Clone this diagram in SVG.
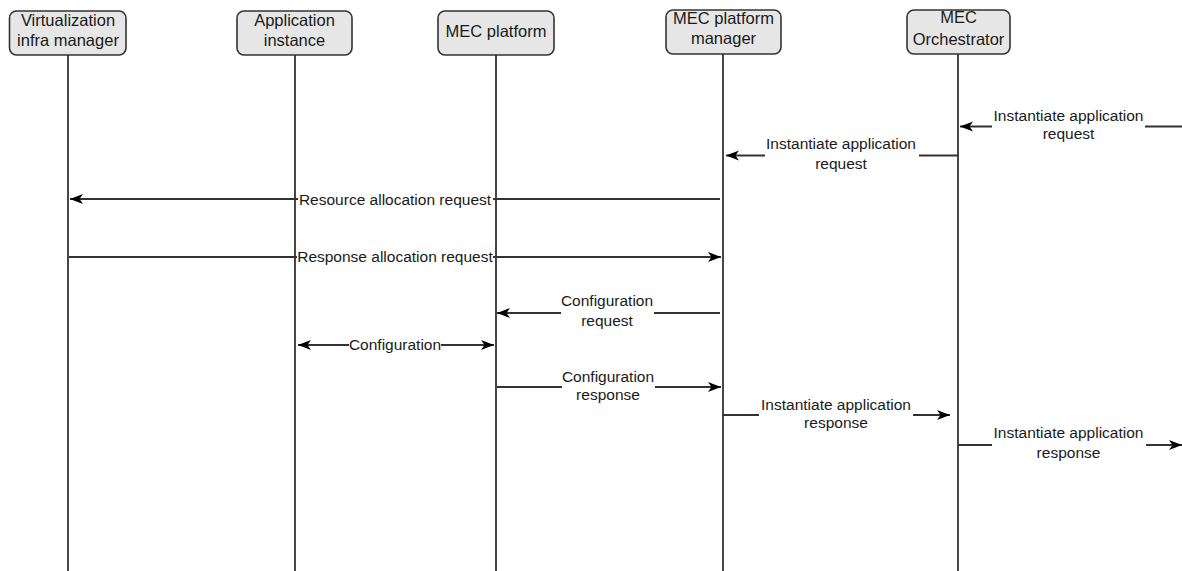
<svg xmlns="http://www.w3.org/2000/svg" width="1182" height="571" viewBox="0 0 1182 571">
<style>
.box{fill:#e6e6e6;stroke:#333;stroke-width:1.6}
.life{stroke:#333;stroke-width:1.8;fill:none}
.msg{stroke:#333;stroke-width:1.8;fill:none}
.t{font-family:"Liberation Sans",Arial,sans-serif;font-size:15.5px;fill:#1a1a1a;text-anchor:middle}
.h{font-family:"Liberation Sans",Arial,sans-serif;font-size:16.5px;fill:#1a1a1a;text-anchor:middle}
.bg{fill:#fff}
</style>
<defs>
<marker id="arr" markerUnits="userSpaceOnUse" markerWidth="14" markerHeight="12" refX="13" refY="5" orient="auto-start-reverse" viewBox="0 0 14 10">
<path d="M0,0 L13,5 L0,10 L3.5,5 Z" fill="#000"/>
</marker>
</defs>
<g id="lifelines">
<line class="life" x1="68" y1="55" x2="68" y2="571"/>
<line class="life" x1="295" y1="55" x2="295" y2="571"/>
<line class="life" x1="496" y1="55" x2="496" y2="571"/>
<line class="life" x1="723" y1="54" x2="723" y2="571"/>
<line class="life" x1="958" y1="54" x2="958" y2="571"/>
</g>
<g id="node-vim">
<rect class="box" x="9.5" y="11" width="116.5" height="44" rx="7"/>
<text class="h" x="68" y="26">Virtualization</text>
<text class="h" x="68" y="46">infra manager</text>
</g>
<g id="node-app">
<rect class="box" x="237" y="11" width="115" height="44" rx="7"/>
<text class="h" x="294.5" y="26">Application</text>
<text class="h" x="294.5" y="46">instance</text>
</g>
<g id="node-mep">
<rect class="box" x="438" y="11" width="116" height="44" rx="7"/>
<text class="h" x="496" y="37">MEC platform</text>
</g>
<g id="node-mepm">
<rect class="box" x="666" y="10" width="115" height="44" rx="7"/>
<text class="h" x="723.5" y="24">MEC platform</text>
<text class="h" x="723.5" y="44">manager</text>
</g>
<g id="node-meo">
<rect class="box" x="907" y="10" width="103" height="44" rx="7"/>
<text class="h" x="958.5" y="23">MEC</text>
<text class="h" x="958.5" y="45">Orchestrator</text>
</g>
<g id="connectors">
<line class="msg" x1="1182" y1="126.5" x2="960" y2="126.5" marker-end="url(#arr)"/>
<line class="msg" x1="958" y1="155.5" x2="726" y2="155.5" marker-end="url(#arr)"/>
<line class="msg" x1="720" y1="199" x2="70" y2="199" marker-end="url(#arr)"/>
<line class="msg" x1="69" y1="257" x2="721" y2="257" marker-end="url(#arr)"/>
<line class="msg" x1="720" y1="313" x2="497" y2="313" marker-end="url(#arr)"/>
<line class="msg" x1="298" y1="345" x2="494" y2="345" marker-start="url(#arr)" marker-end="url(#arr)"/>
<line class="msg" x1="497" y1="387" x2="721" y2="387" marker-end="url(#arr)"/>
<line class="msg" x1="722" y1="415" x2="950" y2="415" marker-end="url(#arr)"/>
<line class="msg" x1="958" y1="445" x2="1182" y2="445" marker-end="url(#arr)"/>
</g>
<g id="labels">
<rect class="bg" x="992" y="107" width="153" height="38"/>
<text class="t" x="1068.5" y="121">Instantiate application</text>
<text class="t" x="1068.5" y="139">request</text>
<rect class="bg" x="765" y="136" width="154" height="38"/>
<text class="t" x="841" y="149">Instantiate application</text>
<text class="t" x="841" y="169">request</text>
<rect class="bg" x="298" y="191" width="195" height="16"/>
<text class="t" x="395" y="204.5">Resource allocation request</text>
<rect class="bg" x="297" y="249" width="196" height="16"/>
<text class="t" x="395" y="262">Response allocation request</text>
<rect class="bg" x="561" y="292" width="93" height="38"/>
<text class="t" x="607" y="306">Configuration</text>
<text class="t" x="607" y="326">request</text>
<rect class="bg" x="349" y="337" width="92" height="16"/>
<text class="t" x="395" y="350">Configuration</text>
<rect class="bg" x="562" y="367" width="93" height="38"/>
<text class="t" x="608" y="382">Configuration</text>
<text class="t" x="608" y="400">response</text>
<rect class="bg" x="759" y="396" width="154" height="38"/>
<text class="t" x="836" y="410">Instantiate application</text>
<text class="t" x="836" y="428">response</text>
<rect class="bg" x="992" y="425" width="154" height="38"/>
<text class="t" x="1068.5" y="438">Instantiate application</text>
<text class="t" x="1068.5" y="458">response</text>
</g>
</svg>
